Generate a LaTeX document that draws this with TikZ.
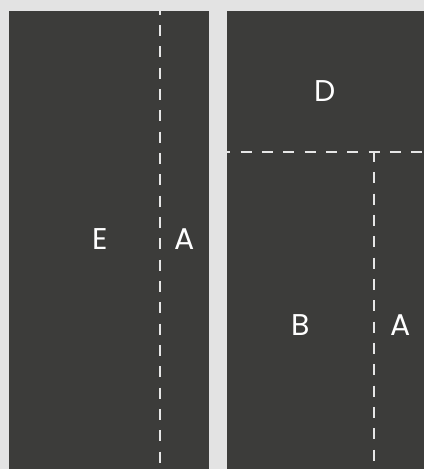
\documentclass[tikz,border=0pt]{standalone}
\usepackage{fontspec}
\setmainfont{Poppins}
\definecolor{bgc}{HTML}{E3E3E3}
\definecolor{panel}{HTML}{3C3C3A}
\definecolor{dashc}{HTML}{E6E6E6}
\begin{document}
\begin{tikzpicture}[x=1pt,y=-1pt,
  panelbox/.style={fill=panel,draw=none},
  divider/.style={draw=dashc,line width=2pt,dash pattern=on 11pt off 10.33pt},
  lbl/.style={text=white,font=\fontsize{30}{32}\selectfont,inner sep=0pt,anchor=center}]
\fill[bgc] (0,0) rectangle (424,469);
\useasboundingbox (0,0) rectangle (424,469);
\fill[panelbox] (9,11) rectangle (209,469);
\fill[panelbox] (227,11) rectangle (424,469);
\coordinate (l1) at (160,11);
\coordinate (l2) at (160,469);
\coordinate (h1) at (227,152);
\coordinate (h2) at (424,152);
\coordinate (v1) at (373.5,151);
\coordinate (v2) at (373.5,469);
\draw[divider,dash phase=7.33pt] (l1) -- (l2);
\draw[divider,dash phase=7.67pt] (h1) -- (h2);
\draw[divider,dash phase=0pt] (v1) -- (v2);
\node[lbl] (E) at (100.5,239) {E};
\node[lbl] (A1) at (184.5,239) {A};
\node[lbl] (D) at (325.5,91) {D};
\node[lbl] (B) at (301,325) {B};
\node[lbl] (A2) at (400.5,325) {A};
\end{tikzpicture}
\end{document}
